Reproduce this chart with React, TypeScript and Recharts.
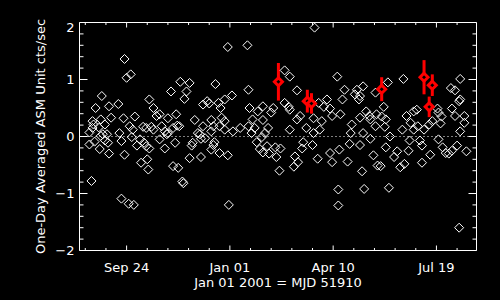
import React from 'react';
import { ScatterChart, Scatter, XAxis, YAxis, ReferenceLine, ErrorBar } from 'recharts';

// Days relative to Jan 01 2001 (MJD 51910)
const whiteDays = [
  -136, -136, -134, -133, -133, -132, -131, -130, -127, -126, -125, -125, -124, -123, -121, -121, -119, -118, -117, -117,
  -115, -108, -107, -105, -105, -103, -102, -102, -100, -97, -96, -98, -95, -94, -93, -92, -90, -87, -84, -83,
  -81, -81, -86, -80, -79, -78, -78, -76, -74, -74, -71, -68, -68, -66, -63, -63, -61, -60, -60, -57,
  -55, -55, -50, -53, -52, -51, -48, -49, -46, -45, -42, -44, -39, -39, -37, -36, -34, -31, -29, -28,
  -28, -26, -26, -24, -22, -20, -18, -18, -18, -16, -16, -15, -14, -11, -10, -9, -10, -8, -5, -5,
  -5, -2, -2, -1, 2, 3, 10, 17, 18, 19, 18, 21, 22, 24, 26, 27, 29, 31, 32, 32,
  32, 34, 36, 37, 38, 40, 42, 44, 45, 48, 49, 53, 53, 57, 58, 58, 58, 63, 62, 66,
  65, 65, 68, 70, 71, 74, 80, 81, 81, 82, 85, 86, 87, 89, 91, 94, 97, 97, 99, 99,
  104, 105, 105, 106, 107, 109, 111, 114, 116, 117, 118, 121, 123, 125, 126, 126, 126, 128, 129, 129,
  130, 132, 135, 136, 136, 139, 141, 141, 142, 143, 146, 147, 149, 150, 151, 151, 153, 154, 155, 159,
  162, 165, 167, 168, 169, 171, 173, 174, 175, 178, 178, 181, 182, 184, 186, 186, 188, 193, 194, 196,
  201, 202, 202, 204, 205, 206, 209, 212, 214, 215, 215, 218, 218, 220, 222, 223, 222, 223, 223, 227,
  227, 229,
];
const whiteVals = [
  -0.14, 0.07, -0.78, 0.27, 0.15, 0.21, -0.09, 0.5, 0.16, -0.22, 0.3, 0.01, 0.71, 0.04, 0.21, -0.07, 0.04, -0.11, 0.53, -0.3,
  0.33, 0.57, 0.06, -0.08, -1.09, 0.32, 1.36, -0.32, 1.03, 0.18, 1.09, -1.18, -0.01, 0.12, -1.2, 0.35, -0.16, -0.05, 0.17, -0.11,
  0.15, -0.17, -0.46, -0.4, -0.58, 0.65, -0.21, 0.17, 0.5, 0.12, 0.36, 0.39, -0.05, 0.18, 0.09, -0.21, 0.04, 0.32, 0.06, 0.79,
  0.15, -0.52, -0.55, -0.11, 0.39, 0.19, 0.96, 0.18, -0.79, -0.82, 0.79, 0.66, 0.94, -0.38, -0.16, -0.11, 0.29, 0.06, 0.04, -0.36,
  -0.04, 0.56, 0.18, -0.03, 0.62, 0.58, 0.29, 0.09, -0.23, 0.18, -0.15, -0.1, 0.92, 0.59, -0.29, 0.5, 0.18, 0.33, 0.65, 0.27,
  0.12, 1.57, -0.33, -1.2, 0.72, 0.09, 0.15, 1.6, 0.82, 0.5, 0.18, 0.06, 0.3, 0.15, -0.1, 0.44, -0.22, -0.01, 0.29, 0.53,
  -0.28, 0.06, -0.17, 0.15, -0.3, 0.42, 0.5, -0.19, -0.36, -0.6, -0.21, 1.16, 0.59, 0.52, 1.05, 0.47, 0.12, -0.35, -0.53, -0.45,
  0.3, 0.81, 0.36, -0.21, -0.1, 0.15, -0.15, 0.32, 0.06, 1.91, -0.39, 0.59, 0.12, 0.27, 0.52, 0.65, 0.49, -0.29, 0.36, -0.45,
  1.05, -0.93, -1.21, -0.23, 0.39, 0.65, 0.82, -0.44, -0.13, 0.06, 0.21, 0.74, 0.82, 0.65, 0.33, 0.71, -0.15, -0.61, 0.88, 0.06,
  -0.92, 0.44, 0.36, 0.3, -0.04, -0.33, 0.77, 0.18, 0.39, -0.51, -0.52, 0.35, 0.52, 0.17, 0.3, -0.19, 0.95, -0.9, 0.0, -0.36,
  -0.26, -0.54, 0.12, 1.01, -0.48, 0.36, -0.25, -0.07, 0.24, 0.44, 0.12, 0.47, 0.18, -0.07, -0.16, -0.46, 0.12, 0.21, -0.32, 0.27,
  0.49, 0.42, -0.05, 0.23, 0.35, -0.19, -0.29, -0.3, 0.85, 0.49, -0.25, 0.81, 0.36, -0.16, 0.62, 0.65, -1.6, 1.01, 0.09, 0.36,
  0.24, -0.26,
];

const redDays = [47, 75, 79, 147, 188, 196, 193];
const redVals = [0.96, 0.62, 0.58, 0.83, 1.04, 0.9, 0.52];
const redErrs = [0.33, 0.2, 0.18, 0.21, 0.3, 0.19, 0.18];

const xTickValues = [-140, -120, -100, -80, -60, -40, -20, 0, 20, 40, 60, 80, 100, 120, 140, 160, 180, 200, 220];
const xMajorValues = [-100, 0, 100, 200];
const xMajorLabels = ['Sep 24', 'Jan 01', 'Apr 10', 'Jul 19'];
const yTickValues = [-2, -1.8, -1.6, -1.4, -1.2, -1, -0.8, -0.6, -0.4, -0.2, 0, 0.2, 0.4, 0.6, 0.8, 1, 1.2, 1.4, 1.6, 1.8, 2];
const yMajorValues = [-2, -1, 0, 1, 2];
const yMajorLabels = ['\u22122', '\u22121', '0', '1', '2'];

const X_MIN = -145.6;
const X_MAX = 238.8;
const Y_MIN = -2;
const Y_MAX = 2;

const whiteData = whiteDays.map((d, i) => ({ d, v: whiteVals[i] }));
const redData = redDays.map((d, i) => ({ d, v: redVals[i], e: redErrs[i] }));

// plot frame corners (joined by the scatter's line)
const frameData = [
  { d: X_MIN, v: Y_MIN },
  { d: X_MAX, v: Y_MIN },
  { d: X_MAX, v: Y_MAX },
  { d: X_MIN, v: Y_MAX },
];
const isMajorY = (v: number) => yMajorValues.some((m) => Math.abs(m - v) < 1e-6);
const bottomTicks = xTickValues.map((t) => ({ d: t, v: Y_MIN, major: xMajorValues.indexOf(t) >= 0 }));
const topTicks = xTickValues.map((t) => ({ d: t, v: Y_MAX, major: xMajorValues.indexOf(t) >= 0 }));
const leftTicks = yTickValues.map((t) => ({ d: X_MIN, v: t, major: isMajorY(t) }));
const rightTicks = yTickValues.map((t) => ({ d: X_MAX, v: t, major: isMajorY(t) }));

const FONT = 'DejaVu Sans';
const W = '#ffffff';

const WhiteDiamond = (p: any) => {
  const { cx, cy } = p;
  const r = 4.5;
  return (
    <polygon
      points={`${cx},${cy - r} ${cx + r},${cy} ${cx},${cy + r} ${cx - r},${cy}`}
      fill="none"
      stroke={W}
      strokeWidth={1}
    />
  );
};

const RedDiamond = (p: any) => {
  const { cx, cy } = p;
  const r = 4;
  return (
    <polygon
      points={`${cx},${cy - r} ${cx + r},${cy} ${cx},${cy + r} ${cx - r},${cy}`}
      fill="#000000"
      stroke="#ff0000"
      strokeWidth={3}
    />
  );
};

const NoShape = () => <g />;

// frame as a closed polygon through the scaled corner points
const FramePoly = (p: any) => {
  const pts = (p.points || []).map((q: any) => `${q.x},${q.y}`).join(' ');
  return <polygon points={pts} fill="none" stroke={W} strokeWidth={1} />;
};

// thin filled quads for the inward tick marks
const quad = (x0: number, y0: number, x1: number, y1: number) => (
  <polygon points={`${x0},${y0} ${x1},${y0} ${x1},${y1} ${x0},${y1}`} fill={W} stroke="none" />
);
const isMaj = (p: any) => !!(p.payload && p.payload.major);
const BottomMark = (p: any) => {
  const len = isMaj(p) ? 5 : 2.5;
  return quad(p.cx - 0.5, p.cy - len, p.cx + 0.5, p.cy);
};
const TopMark = (p: any) => {
  const len = isMaj(p) ? 5 : 2.5;
  return quad(p.cx - 0.5, p.cy, p.cx + 0.5, p.cy + len);
};
const LeftMark = (p: any) => {
  const len = isMaj(p) ? 8 : 4;
  return quad(p.cx, p.cy - 0.5, p.cx + len, p.cy + 0.5);
};
const RightMark = (p: any) => {
  const len = isMaj(p) ? 8 : 4;
  return quad(p.cx - len, p.cy - 0.5, p.cx, p.cy + 0.5);
};

const BottomTick = (p: any) => {
  const { x, y, payload } = p;
  const i = xMajorValues.indexOf(payload.value);
  if (i < 0) return <g />;
  return (
    <text x={x} y={y + 21} textAnchor="middle" fill={W} fontSize={13} fontFamily={FONT}>
      {xMajorLabels[i]}
    </text>
  );
};

const LeftTick = (p: any) => {
  const { x, y, payload } = p;
  const idx = yMajorValues.findIndex((m) => Math.abs(m - payload.value) < 1e-6);
  if (idx < 0) return <g />;
  const dy = payload.value === 2 ? 5 : 0;
  return (
    <text x={x - 5} y={y + dy} dy="0.35em" textAnchor="end" fill={W} fontSize={13} fontFamily={FONT}>
      {yMajorLabels[idx]}
    </text>
  );
};

const XTitle = (p: any) => {
  const vb = p.viewBox || { x: 80, y: 250, width: 396 };
  return (
    <text x={vb.x + vb.width / 2} y={vb.y + 36} textAnchor="middle" fill={W} fontSize={13} fontFamily={FONT}>
      Jan 01 2001 = MJD 51910
    </text>
  );
};

const Title = (p: any) => {
  const vb = p.viewBox || { x: 80, y: 23, width: 396 };
  return (
    <text x={vb.x + vb.width / 2} y={17} textAnchor="middle" fill={W} fontSize={15} fontFamily={FONT}>
      picA
    </text>
  );
};

const YTitle = (p: any) => {
  const vb = p.viewBox || { x: 0, y: 23, width: 80, height: 227 };
  const cy = vb.y + vb.height / 2;
  return (
    <text
      x={45}
      y={cy}
      transform={`rotate(-90 45 ${cy})`}
      textAnchor="middle"
      fill={W}
      fontSize={13}
      fontFamily={FONT}
    >
      One-Day Averaged ASM Unit cts/sec
    </text>
  );
};

export default function App() {
  return (
    <div style={{ width: 500, height: 300, background: '#000' }}>
      <style>{'html,body{margin:0;padding:0;background:#000;}'}</style>
      <ScatterChart width={500} height={300} margin={{ top: 22.5, right: 23.5, bottom: 0, left: 0 }}>
        <XAxis
          xAxisId="b"
          type="number"
          dataKey="d"
          domain={[X_MIN, X_MAX]}
          ticks={xTickValues}
          interval={0}
          orientation="bottom"
          height={49.5}
          tickSize={0}
          tickMargin={0}
          tickLine={false}
          axisLine={false}
          tick={BottomTick}
          label={XTitle}
        />
        <XAxis
          xAxisId="t"
          type="number"
          dataKey="d"
          domain={[X_MIN, X_MAX]}
          orientation="top"
          height={0}
          tickLine={false}
          axisLine={false}
          tick={false}
          label={Title}
        />
        <YAxis
          yAxisId="l"
          type="number"
          dataKey="v"
          domain={[Y_MIN, Y_MAX]}
          ticks={yTickValues}
          interval={0}
          orientation="left"
          width={79.5}
          tickSize={0}
          tickMargin={0}
          tickLine={false}
          axisLine={false}
          tick={LeftTick}
          label={YTitle}
        />
        <ReferenceLine y={0} xAxisId="b" yAxisId="l" stroke={W} strokeDasharray="1 3" />
        <Scatter
          data={frameData}
          xAxisId="b"
          yAxisId="l"
          line={FramePoly}
          shape={NoShape}
          isAnimationActive={false}
        />
        <Scatter data={bottomTicks} xAxisId="b" yAxisId="l" shape={BottomMark} isAnimationActive={false} />
        <Scatter data={topTicks} xAxisId="b" yAxisId="l" shape={TopMark} isAnimationActive={false} />
        <Scatter data={leftTicks} xAxisId="b" yAxisId="l" shape={LeftMark} isAnimationActive={false} />
        <Scatter data={rightTicks} xAxisId="b" yAxisId="l" shape={RightMark} isAnimationActive={false} />
        <Scatter data={whiteData} xAxisId="b" yAxisId="l" shape={WhiteDiamond} isAnimationActive={false} />
        <Scatter data={redData} xAxisId="b" yAxisId="l" shape={RedDiamond} isAnimationActive={false}>
          <ErrorBar dataKey="e" direction="y" width={0} stroke="#ff0000" strokeWidth={3} isAnimationActive={false} />
        </Scatter>
      </ScatterChart>
    </div>
  );
}
